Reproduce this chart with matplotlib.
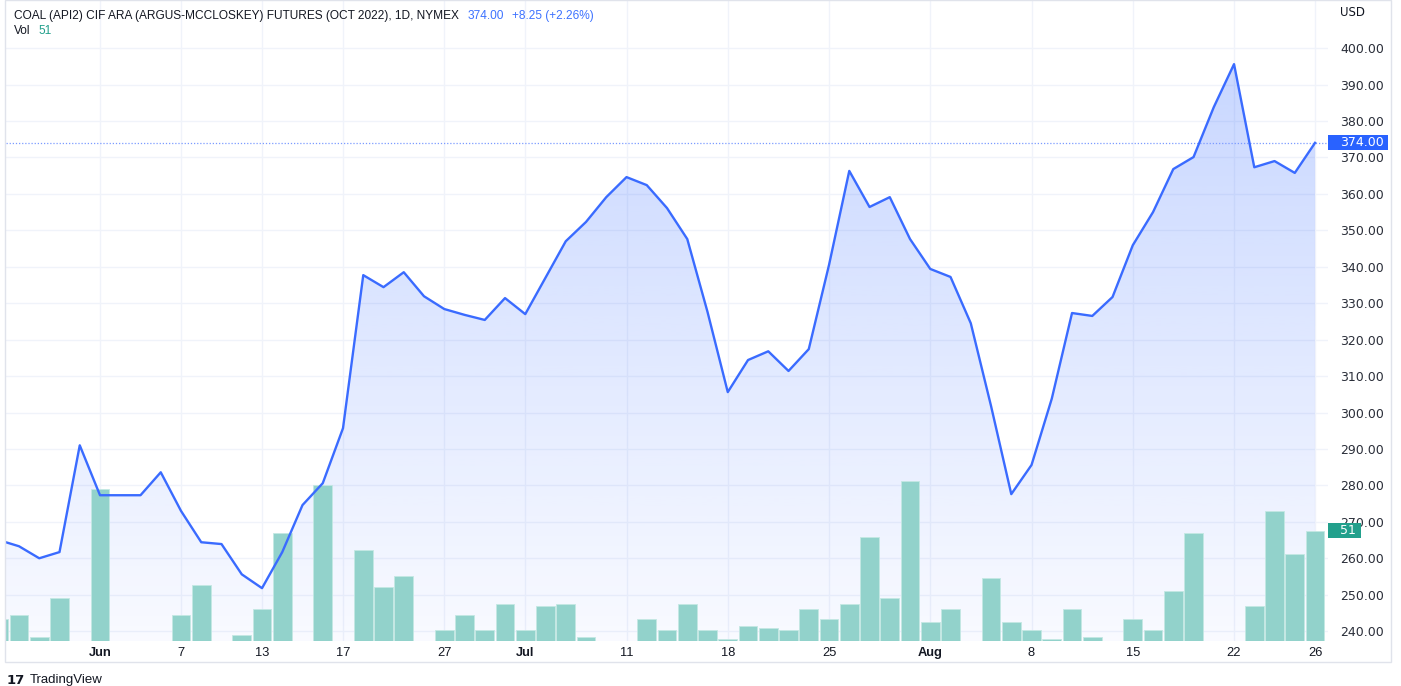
import matplotlib
matplotlib.use("Agg")
import matplotlib.pyplot as plt
import matplotlib.transforms as mtransforms
from matplotlib.patches import Rectangle
import numpy as np

# ---------------- data ----------------
dates = [
    "2022-05-24", "2022-05-25", "2022-05-26", "2022-05-27", "2022-05-31",
    "2022-06-01", "2022-06-02", "2022-06-03", "2022-06-06", "2022-06-07",
    "2022-06-08", "2022-06-09", "2022-06-10", "2022-06-13", "2022-06-14",
    "2022-06-15", "2022-06-16", "2022-06-17", "2022-06-21", "2022-06-22",
    "2022-06-23", "2022-06-24", "2022-06-27", "2022-06-28", "2022-06-29",
    "2022-06-30", "2022-07-01", "2022-07-05", "2022-07-06", "2022-07-07",
    "2022-07-08", "2022-07-11", "2022-07-12", "2022-07-13", "2022-07-14",
    "2022-07-15", "2022-07-18", "2022-07-19", "2022-07-20", "2022-07-21",
    "2022-07-22", "2022-07-25", "2022-07-26", "2022-07-27", "2022-07-28",
    "2022-07-29", "2022-08-01", "2022-08-02", "2022-08-03", "2022-08-04",
    "2022-08-05", "2022-08-08", "2022-08-09", "2022-08-10", "2022-08-11",
    "2022-08-12", "2022-08-15", "2022-08-16", "2022-08-17", "2022-08-18",
    "2022-08-19", "2022-08-22", "2022-08-23", "2022-08-24", "2022-08-25",
    "2022-08-26",
]
close = [
    265.0, 263.3, 260.0, 261.7, 291.0,
    277.3, 277.3, 277.3, 283.6, 273.0,
    264.4, 263.9, 255.6, 251.8, 261.7,
    274.6, 280.6, 295.7, 337.7, 334.4,
    338.5, 331.9, 328.4, 326.8, 325.4,
    331.4, 327.0, 337.0, 347.0, 352.3,
    359.1, 364.6, 362.4, 356.1, 347.6,
    327.6, 305.6, 314.4, 316.8, 311.4,
    317.4, 340.5, 366.3, 356.4, 359.1,
    347.6, 339.4, 337.2, 324.5, 301.8,
    277.6, 285.6, 303.8, 327.3, 326.5,
    331.7, 345.9, 355.0, 366.8, 370.1,
    383.8, 395.6, 367.3, 369.0, 365.75,
    374.0,
]
volume = [
    10, 12, 2, 20, 0,
    70, 0, 0, 0, 12,
    26, 0, 3, 15, 50,
    0, 72, 0, 42, 25,
    30, 0, 5, 12, 5,
    17, 5, 16, 17, 2,
    0, 0, 10, 5, 17,
    5, 1, 7, 6, 5,
    15, 10, 17, 48, 20,
    74, 9, 15, 0, 29,
    9, 5, 1, 15, 2,
    0, 10, 5, 23, 50,
    0, 0, 16, 60, 40,
    51,
]
tick_dates = ["2022-06-01", "2022-06-07", "2022-06-13", "2022-06-17", "2022-06-27",
              "2022-07-01", "2022-07-11", "2022-07-18", "2022-07-25", "2022-08-01",
              "2022-08-08", "2022-08-15", "2022-08-22", "2022-08-26"]
tick_labels = ["Jun", "7", "13", "17", "27", "Jul", "11", "18", "25", "Aug",
               "8", "15", "22", "26"]
bold_labels = ["Jun", "Jul", "Aug"]
price_ticks = [240, 250, 260, 270, 280, 290, 300, 310, 320, 330, 340, 350,
               360, 370, 380, 390, 400]
title = "COAL (API2) CIF ARA (ARGUS-MCCLOSKEY) FUTURES (OCT 2022), 1D, NYMEX"
last_price = close[-1]
change = close[-1] - close[-2]
change_pct = change / close[-2] * 100
last_vol = volume[-1]

# ---------------- style ----------------
BLUE = "#2962ff"
LINE_BLUE = "#3a6bff"
TEAL_BAR = "#92d2cb"
TEAL_LBL = "#22a08c"
TXT = "#131722"
GRID = "#f0f3fa"
FONT = "Liberation Sans"

W, H = 1401, 686
fig = plt.figure(figsize=(W / 100, H / 100), dpi=100)
fig.patch.set_facecolor("white")
Lpx, Rpx, Bpx, Tpx = 6, 1328, 641, 0
pos = [Lpx / W, (H - Bpx) / H, (Rpx - Lpx) / W, (Bpx - Tpx) / H]

ax = fig.add_axes(pos)
x = np.arange(len(close))
x0, x1 = 0.358, 65.64
ylo, yhi = 237.3, 413.2
ax.set_xlim(x0, x1)
ax.set_ylim(ylo, yhi)

# volume axis (created early, price ticks moved to the right afterwards)
axv = ax.twinx()

# grid and ticks
ax.set_axisbelow(True)
tick_idx = [dates.index(d) for d in tick_dates]
ax.set_xticks(tick_idx)
ax.set_xticklabels(tick_labels)
ax.set_yticks(price_ticks)
ax.set_yticklabels([f"{v:.2f}" for v in price_ticks])
ax.grid(True, color=GRID, lw=1.0)
ax.yaxis.tick_right()
ax.yaxis.set_label_position("right")
ax.tick_params(axis="y", which="both", left=False, right=False, labelleft=False,
               labelright=True, length=0, pad=9, labelsize=9, labelcolor="#2a2e39")
ax.tick_params(axis="x", length=0, pad=4.5, labelsize=9.3, labelcolor=TXT)
for lbl in ax.get_yticklabels():
    lbl.set_fontfamily("DejaVu Sans")
for lbl in ax.get_xticklabels():
    lbl.set_fontfamily(FONT)
    if lbl.get_text() in bold_labels:
        lbl.set_fontweight("bold")
for s in ax.spines.values():
    s.set_visible(False)

# gradient area fill
poly = ax.fill_between(x, close, ylo, facecolor="none", edgecolor="none")
clip_path = poly.get_paths()[0]
grad = np.zeros((256, 1, 4))
grad[..., 0] = 41 / 255
grad[..., 1] = 98 / 255
grad[..., 2] = 1.0
grad[:, 0, 3] = np.linspace(0.03, 0.28, 256)
im = ax.imshow(grad, extent=[x[0], x[-1], ylo, yhi], origin="lower",
               aspect="auto", interpolation="bilinear", zorder=1)
im.set_clip_path(clip_path, transform=ax.transData)
ax.set_xlim(x0, x1)
ax.set_ylim(ylo, yhi)

# last price dotted line
ax.axhline(last_price, color="#7b9bff", lw=0.9, ls=(0, (1, 1.5)), zorder=2)

# volume bars
axv.set_ylim(0, 296)
axv.set_xlim(x0, x1)
axv.bar(x, volume, width=0.92, color=TEAL_BAR, edgecolor="#c4e8e3",
        linewidth=0.6, zorder=2)
axv.tick_params(axis="y", which="both", left=False, right=False,
                labelleft=False, labelright=False)
for s in axv.spines.values():
    s.set_visible(False)
axv.patch.set_visible(False)

# price line on top
axl = fig.add_axes(pos, sharex=ax, sharey=ax)
axl.patch.set_visible(False)
axl.plot(x, close, color=LINE_BLUE, lw=1.7, solid_joinstyle="round", zorder=3)
axl.set_xlim(x0, x1)
axl.set_ylim(ylo, yhi)
axl.axis("off")

# price label box
tr_p = mtransforms.blended_transform_factory(ax.transAxes, ax.transData)
box_w = 60 / (Rpx - Lpx)
ax.add_patch(Rectangle((1.0, last_price - 2.05), box_w, 4.1, transform=tr_p,
                       facecolor=BLUE, edgecolor="none", clip_on=False, zorder=5))
ax.text(1.0 + 12 / (Rpx - Lpx), last_price, f"{last_price:.2f}", transform=tr_p,
        color="white", fontsize=9, family="DejaVu Sans", va="center", ha="left",
        zorder=6, clip_on=False)

# volume label box
tr_v = mtransforms.blended_transform_factory(axv.transAxes, axv.transData)
axv.add_patch(Rectangle((1.0, last_vol - 3.5), 33 / (Rpx - Lpx), 7.0, transform=tr_v,
                        facecolor=TEAL_LBL, edgecolor="none", clip_on=False, zorder=5))
axv.text(1.0 + 12 / (Rpx - Lpx), last_vol, f"{last_vol}", transform=tr_v,
         color="white", fontsize=9, family="DejaVu Sans", va="center", ha="left",
         zorder=6, clip_on=False)

# currency
fig.text(1340 / W, 1 - 12 / H, "USD", fontsize=8.5, family="DejaVu Sans",
         color=TXT, va="center", ha="left")

# header legend (chained so gaps stay constant)
HF = 8.6
GAP = 6  # points
t1 = fig.text(14 / W, 1 - 16 / H, title, fontsize=HF, family=FONT, color=TXT,
              va="baseline", ha="left")
t2 = fig.text(0, 0, "", fontsize=HF)  # placeholder not used
t2.set_visible(False)
a2 = ax.annotate(f"{last_price:.2f}", xy=(1, 0), xycoords=t1,
                 xytext=(GAP, 0), textcoords="offset points", fontsize=HF,
                 family=FONT, color="#3d72ff", va="bottom", ha="left",
                 annotation_clip=False)
a3 = ax.annotate(f"{change:+.2f} ({change_pct:+.2f}%)", xy=(1, 0), xycoords=a2,
                 xytext=(GAP, 0), textcoords="offset points", fontsize=HF,
                 family=FONT, color="#3d72ff", va="bottom", ha="left",
                 annotation_clip=False)
t4 = fig.text(14 / W, 1 - 31 / H, "Vol", fontsize=HF, family=FONT, color=TXT,
              va="center", ha="left")
ax.annotate(f"{last_vol}", xy=(1, 0), xycoords=t4, xytext=(GAP, 0),
            textcoords="offset points", fontsize=HF, family=FONT,
            color=TEAL_LBL, va="bottom", ha="left", annotation_clip=False)
t1.set_va("center")

# widget border
border = Rectangle((5 / W, (H - 662) / H), (1391 - 5) / W, 662 / H,
                   transform=fig.transFigure, facecolor="none",
                   edgecolor="#e0e3eb", lw=1.0, clip_on=False)
fig.patches.append(border)

# TradingView brand
fig.text(7 / W, 1 - 680 / H, "17", fontsize=9.5, family="DejaVu Sans",
         weight="bold", color=TXT, va="center", ha="left")
fig.text(30 / W, 1 - 680 / H, "TradingView", fontsize=9.5, family=FONT,
         color=TXT, va="center", ha="left")

fig.savefig("out.png", dpi=100, facecolor="white")
